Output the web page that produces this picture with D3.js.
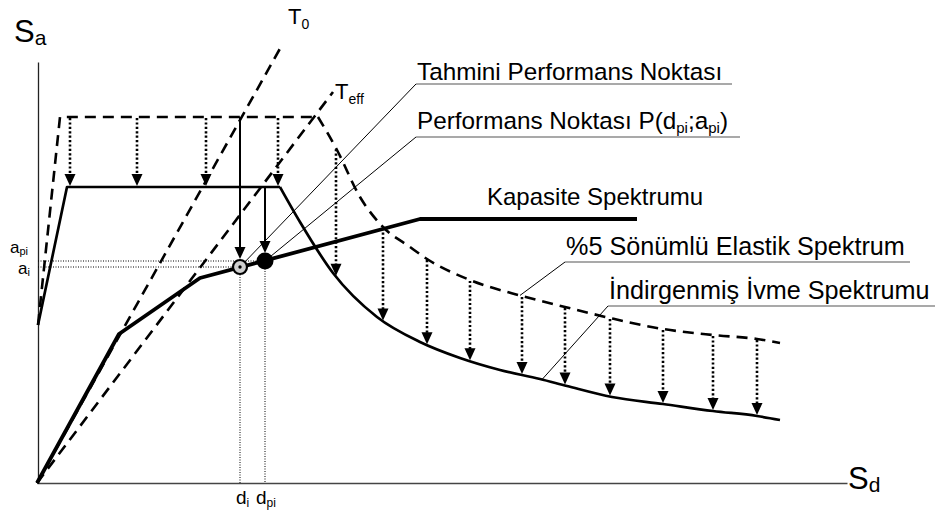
<!DOCTYPE html>
<html><head><meta charset="utf-8">
<script src="https://cdn.jsdelivr.net/npm/d3@7"></script>
<style>
body{margin:0;background:#fff}
svg{display:block;font-family:"Liberation Sans",Arial,Helvetica,sans-serif}
</style>
</head><body>
<svg id="chart" width="944" height="516"></svg>
<script>
// Elastic spectrum, 5% damping (Sd, Sa)
const elasticSd = [0.1, 2.3, 28.1, 30.0, 32.3, 34.6, 37.3, 39.0, 43.3, 48.5, 52.8, 57.3, 62.6, 67.6, 72.0, 74.3];
const elasticSa = [15.8, 36.6, 36.6, 33.3, 28.6, 25.6, 23.6, 22.4, 20.3, 18.7, 17.6, 16.5, 15.4, 14.8, 14.4, 14.0];
// Reduced (demand) spectrum
const reducedSd = [0.1, 3.0, 24.3, 26.3, 29.6, 34.0, 38.3, 42.3, 46.3, 50.3, 53.0, 57.5, 62.6, 67.6, 72.0, 74.3];
const reducedSa = [15.8, 29.6, 29.6, 26.1, 21.0, 16.6, 14.1, 12.5, 11.3, 10.4, 9.7, 8.6, 7.9, 7.2, 6.7, 6.3];
// Capacity spectrum
const capacitySd = [0, 8.2, 16.3, 38.3, 60.0];
const capacitySa = [0, 14.9, 20.5, 26.4, 26.4];
// Initial and effective period lines (Sd, Sa end points)
const periodLabels = ["0", "eff"];
const periodEndSd = [24.5, 29.6];
const periodEndSa = [43.8, 39.1];
// Estimated and final performance points
const trialPoint = {d: 20.3, a: 21.6};
const perfPoint = {d: 22.8, a: 22.2};
// Sd positions of reduction arrows
const plateauArrowSd = [3.3, 10.0, 16.9, 24.1];
const branchArrowSd = [29.9, 34.6, 39.0, 43.3, 48.5, 52.8, 57.3, 62.6, 67.6, 72.0];
// Callout labels
const calloutTexts = ["Tahmini Performans Noktası", "Performans Noktası P(", "Kapasite Spektrumu", "%5 Sönümlü Elastik Spektrum", "İndirgenmiş İvme Spektrumu"];

const svg = d3.select("#chart");
const x = d3.scaleLinear().domain([0, 81]).range([37, 847]);
const y = d3.scaleLinear().domain([0, 42.1]).range([483, 62]);

// axes without ticks
svg.append("g").attr("transform", "translate(0,483)")
  .call(d3.axisBottom(x).tickValues([]).tickSizeOuter(0))
  .select(".domain").attr("stroke", "#444").attr("stroke-width", 1.5);
svg.append("g").attr("transform", "translate(38,0)")
  .call(d3.axisLeft(y).tickValues([]).tickSizeOuter(0))
  .select(".domain").attr("stroke", "#222").attr("stroke-width", 1.3);

const zip = (xs, ys) => xs.map((v, i) => [v, ys[i]]);
const lin = d3.line().x(d => x(d[0])).y(d => y(d[1]));
const smooth = d3.line().x(d => x(d[0])).y(d => y(d[1])).curve(d3.curveMonotoneX);

const dashStyle = p => p.attr("fill", "none").attr("stroke", "#000").attr("stroke-width", 2.6).attr("stroke-dasharray", "11,7");

// period lines
periodEndSd.forEach((sd, i) => {
  svg.append("path").attr("d", lin([[0, 0], [sd, periodEndSa[i]]])).call(dashStyle);
});

// elastic spectrum: linear rise + plateau, smooth descending branch
const el = zip(elasticSd, elasticSa);
svg.append("path").attr("d", lin(el.slice(0, 3))).call(dashStyle);
const elDesc = svg.append("path").attr("d", smooth(el.slice(2))).call(dashStyle);

// reduced spectrum
const rd = zip(reducedSd, reducedSa);
const solidStyle = p => p.attr("fill", "none").attr("stroke", "#000").attr("stroke-width", 2.7).attr("stroke-linejoin", "round");
svg.append("path").attr("d", lin(rd.slice(0, 3))).call(solidStyle);
const rdDesc = svg.append("path").attr("d", smooth(rd.slice(2))).call(solidStyle);

// capacity spectrum
svg.append("path").attr("d", lin(zip(capacitySd, capacitySa)))
  .attr("fill", "none").attr("stroke", "#000").attr("stroke-width", 3.8).attr("stroke-linejoin", "round");

// y of a drawn path at a given pixel x
function yAt(node, px) {
  const L = node.getTotalLength();
  let best = null, bd = Infinity;
  for (let s = 0; s <= L; s += 0.5) {
    const p = node.getPointAtLength(s);
    const dd = Math.abs(p.x - px);
    if (dd < bd) { bd = dd; best = p.y; }
  }
  return best;
}

function arrow(px, y0, y1, dotted, w) {
  const h = 12;
  svg.append("line").attr("x1", px).attr("x2", px).attr("y1", y0).attr("y2", y1 - h + 1)
    .attr("stroke", "#000").attr("stroke-width", w)
    .attr("stroke-dasharray", dotted ? "2.2,2.2" : null);
  svg.append("path").attr("d", `M${px},${y1}L${px - 5.5},${y1 - h}L${px + 5.5},${y1 - h}Z`).attr("fill", "#000");
}

// reduction arrows on the plateau
plateauArrowSd.forEach(sd => arrow(x(sd), y(elasticSa[1]) + 1, y(reducedSa[1]) - 1, true, 2.6));
// reduction arrows on the descending branch
branchArrowSd.forEach(sd => {
  const px = x(sd);
  arrow(px, yAt(elDesc.node(), px) + 1, yAt(rdDesc.node(), px) - 1, true, 2.6);
});

// arrows down to the trial and final points
arrow(x(trialPoint.d), y(elasticSa[1]), y(trialPoint.a) - 8, false, 2);
arrow(x(perfPoint.d), y(reducedSa[1]), y(perfPoint.a) - 8, false, 2);

// dotted reference lines to axes
const refLine = (x1, y1, x2, y2) => svg.append("line").attr("x1", x1).attr("y1", y1).attr("x2", x2).attr("y2", y2)
  .attr("stroke", "#000").attr("stroke-width", 1).attr("stroke-dasharray", "1,1.5");
refLine(38, y(perfPoint.a), x(perfPoint.d), y(perfPoint.a));
refLine(38, y(trialPoint.a), x(trialPoint.d), y(trialPoint.a));
refLine(x(trialPoint.d), y(trialPoint.a), x(trialPoint.d), 483);
refLine(x(perfPoint.d), y(perfPoint.a), x(perfPoint.d), 483);

// callouts: text, underline and leader
const leader = (x1, y1, x2, y2) => svg.append("line").attr("x1", x1).attr("y1", y1).attr("x2", x2).attr("y2", y2)
  .attr("stroke", "#000").attr("stroke-width", 1);
const underline = (x1, x2, yy) => svg.append("line").attr("x1", x1).attr("x2", x2).attr("y1", yy).attr("y2", yy)
  .attr("stroke", "#555").attr("stroke-width", 1.2);

const FS = 24.3;
svg.append("text").attr("x", 417).attr("y", 80).attr("font-size", FS).text(calloutTexts[0]);
underline(416, 732, 84);
leader(416, 84, x(trialPoint.d), y(trialPoint.a));

const t2 = svg.append("text").attr("x", 417).attr("y", 129).attr("font-size", FS);
t2.append("tspan").text(calloutTexts[1]);
t2.append("tspan").text("d");
t2.append("tspan").attr("font-size", 15).attr("dy", 4).text("pi");
t2.append("tspan").attr("dy", -4).text(";a");
t2.append("tspan").attr("font-size", 15).attr("dy", 4).text("pi");
t2.append("tspan").attr("dy", -4).text(")");
underline(416, 740, 137);
leader(416, 137, x(perfPoint.d), y(perfPoint.a));

svg.append("text").attr("x", 487).attr("y", 205).attr("font-size", 24).text(calloutTexts[2]);

svg.append("text").attr("x", 566).attr("y", 255).attr("font-size", 25.2).text(calloutTexts[3]);
underline(565, 910, 262);
leader(565, 262, x(48.3), yAt(elDesc.node(), x(48.3)));

svg.append("text").attr("x", 609).attr("y", 299).attr("font-size", 25.2).text(calloutTexts[4]);
underline(608, 935, 306);
leader(608, 306, x(50.5), yAt(rdDesc.node(), x(50.5)));

// performance points
svg.append("circle").attr("cx", x(trialPoint.d)).attr("cy", y(trialPoint.a)).attr("r", 7)
  .attr("fill", "#cfcfcf").attr("stroke", "#000").attr("stroke-width", 2.2);
svg.append("circle").attr("cx", x(trialPoint.d)).attr("cy", y(trialPoint.a)).attr("r", 1.7).attr("fill", "#000");
svg.append("circle").attr("cx", x(perfPoint.d)).attr("cy", y(perfPoint.a)).attr("r", 8.5).attr("fill", "#000");

// axis titles
function subLabel(px, py, main, sub, fs, sfs, dy) {
  const t = svg.append("text").attr("x", px).attr("y", py).attr("font-size", fs);
  t.append("tspan").text(main);
  t.append("tspan").attr("font-size", sfs).attr("dy", dy).text(sub);
  return t;
}
subLabel(14, 42, "S", "a", 31, 21, 3);
subLabel(848, 489, "S", "d", 31, 21, 3);
subLabel(288, 24, "T", periodLabels[0], 22, 14, 5);
subLabel(335, 99, "T", periodLabels[1], 22, 14, 5);
subLabel(10, 253, "a", "pi", 17, 11, 2);
subLabel(18, 274, "a", "i", 17, 11, 2);
subLabel(236, 504, "d", "i", 19, 12, 3);
subLabel(256, 504, "d", "pi", 19, 12, 3);
</script>
</body></html>
